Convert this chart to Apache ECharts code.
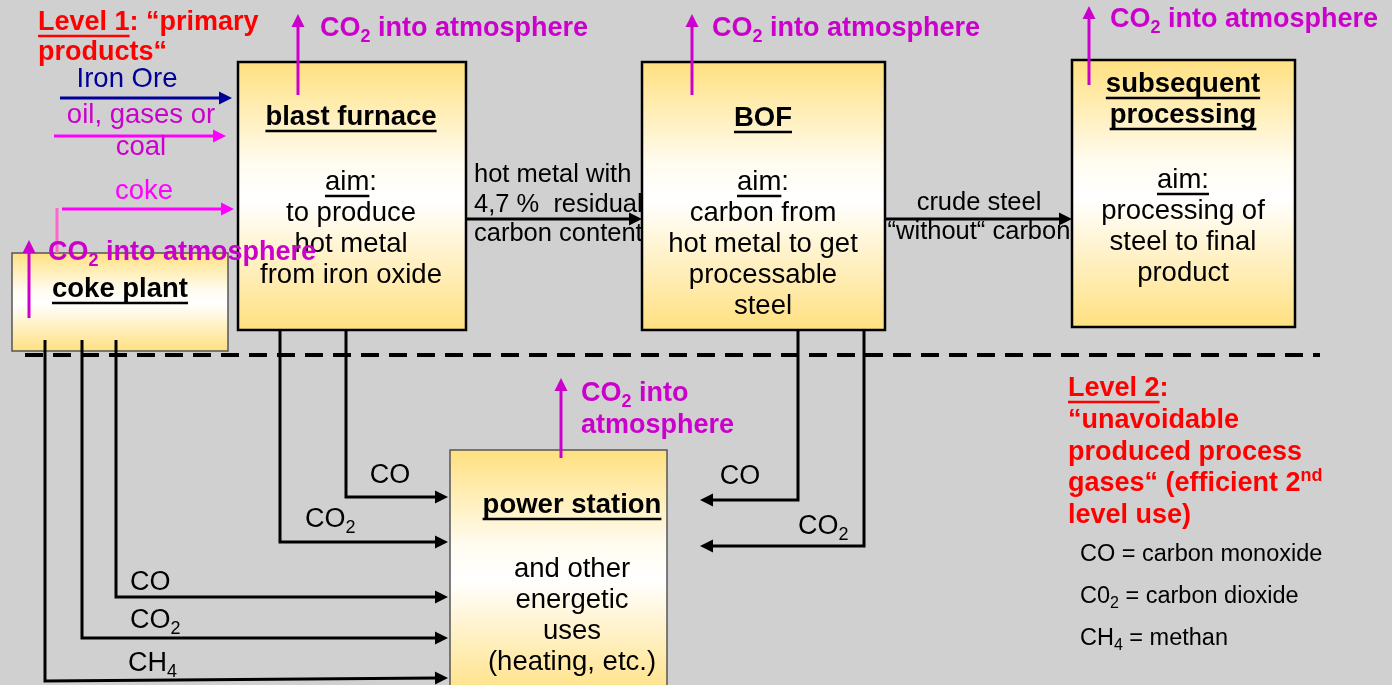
<!DOCTYPE html>
<html>
<head>
<meta charset="utf-8">
<script src="https://cdn.jsdelivr.net/npm/echarts@6/dist/echarts.min.js"></script>
<style>
    html, body { margin: 0; padding: 0; background: #d0d0d0; }
    #flow { width: 1392px; height: 685px; }
</style>
</head>
<body>
<div id="flow"></div>
<script>
// process boxes: [x0, y0, x1, y1, border colour, border width]
const boxes = [
    [12, 253, 228, 351, '#555555', 1.5],   // coke plant
    [238, 62, 466, 330, '#000000', 2.5],   // blast furnace
    [642, 62, 885, 330, '#000000', 2.5],   // BOF
    [1072, 60, 1295, 327, '#000000', 2.5], // subsequent processing
    [450, 450, 667, 700, '#555555', 1.5]   // power station
]

// material / gas flows: points, colour, width, arrow head, dash
const flows = [
    { pts: [[60, 98], [232, 98]], color: '#000099', w: 3, arrow: true },
    { pts: [[54, 136], [226, 136]], color: '#ff00ff', w: 3, arrow: true },
    { pts: [[62, 209], [234, 209]], color: '#ff00ff', w: 3, arrow: true },
    { pts: [[57, 208], [57, 253]], color: '#ff66cc', w: 3, arrow: false },
    { pts: [[466, 219], [642, 219]], color: '#000', w: 3, arrow: true },
    { pts: [[885, 219], [1072, 219]], color: '#000', w: 3, arrow: true },
    { pts: [[25, 355], [1320, 355]], color: '#000', w: 4, arrow: false, dash: [18, 10] },
    { pts: [[346, 330], [346, 497], [448, 497]], color: '#000', w: 3, arrow: true },
    { pts: [[280, 330], [280, 542], [448, 542]], color: '#000', w: 3, arrow: true },
    { pts: [[116, 340], [116, 597], [448, 597]], color: '#000', w: 3, arrow: true },
    { pts: [[82, 340], [82, 638], [448, 638]], color: '#000', w: 3, arrow: true },
    { pts: [[45, 340], [45, 681], [448, 678]], color: '#000', w: 3, arrow: true },
    { pts: [[798, 330], [798, 500], [700, 500]], color: '#000', w: 3, arrow: true },
    { pts: [[864, 330], [864, 546], [700, 546]], color: '#000', w: 3, arrow: true },
    // CO2 into atmosphere
    { pts: [[29, 318], [29, 240]], color: '#cc00cc', w: 3, arrow: true },
    { pts: [[298, 95], [298, 14]], color: '#cc00cc', w: 3, arrow: true },
    { pts: [[692, 95], [692, 14]], color: '#cc00cc', w: 3, arrow: true },
    { pts: [[1089, 85], [1089, 6]], color: '#cc00cc', w: 3, arrow: true },
    { pts: [[561, 458], [561, 378]], color: '#cc00cc', w: 3, arrow: true }
]

// texts: _underline_, ~subscript~, ^superscript^ ; y is the first baseline
const labels = [
    { x: 38, y: 32, lh: 30, align: 'left', size: 27, bold: true, color: '#ff0000', lines: ['_Level 1_: “primary', 'products“'] },
    { x: 127, y: 89, lh: 31, align: 'center', size: 27.5, bold: false, color: '#000099', lines: ['Iron Ore'] },
    { x: 141, y: 125, lh: 32, align: 'center', size: 27.5, bold: false, color: '#cc00cc', lines: ['oil, gases or', 'coal'] },
    { x: 144, y: 201, lh: 31, align: 'center', size: 27.5, bold: false, color: '#ff00ff', lines: ['coke'] },

    { x: 120, y: 299, lh: 31, align: 'center', size: 27.5, bold: true, color: '#000', lines: ['_coke plant_'] },
    { x: 351, y: 127, lh: 31, align: 'center', size: 27.5, bold: true, color: '#000', lines: ['_blast furnace_'] },
    { x: 351, y: 192, lh: 31, align: 'center', size: 27.5, bold: false, color: '#000', lines: ['_aim_:', 'to produce', 'hot metal', 'from iron oxide'] },
    { x: 763, y: 128, lh: 31, align: 'center', size: 27.5, bold: true, color: '#000', lines: ['_BOF_'] },
    { x: 763, y: 192, lh: 31, align: 'center', size: 27.5, bold: false, color: '#000', lines: ['_aim_:', 'carbon from', 'hot metal to get', 'processable', 'steel'] },
    { x: 1183, y: 94, lh: 31, align: 'center', size: 27.5, bold: true, color: '#000', lines: ['_subsequent_', '_processing_'] },
    { x: 1183, y: 190, lh: 31, align: 'center', size: 27.5, bold: false, color: '#000', lines: ['_aim:_', 'processing of', 'steel to final', 'product'] },
    { x: 572, y: 515, lh: 31, align: 'center', size: 27.5, bold: true, color: '#000', lines: ['_power station_'] },
    { x: 572, y: 579, lh: 31, align: 'center', size: 27.5, bold: false, color: '#000', lines: ['and other', 'energetic', 'uses', '(heating, etc.)'] },

    { x: 474, y: 184, lh: 29.5, align: 'left', size: 25.5, bold: false, color: '#000', lines: ['hot metal with', '4,7 %  residual', 'carbon content'] },
    { x: 979, y: 212, lh: 29, align: 'center', size: 25.5, bold: false, color: '#000', lines: ['crude steel', '“without“ carbon'] },
    { x: 390, y: 485, lh: 30, align: 'center', size: 27, bold: false, color: '#000', lines: ['CO'] },
    { x: 305, y: 529, lh: 30, align: 'left', size: 27, bold: false, color: '#000', lines: ['CO~2~'] },
    { x: 130, y: 592, lh: 30, align: 'left', size: 27, bold: false, color: '#000', lines: ['CO'] },
    { x: 130, y: 630, lh: 30, align: 'left', size: 27, bold: false, color: '#000', lines: ['CO~2~'] },
    { x: 128, y: 673, lh: 30, align: 'left', size: 27, bold: false, color: '#000', lines: ['CH~4~'] },
    { x: 740, y: 486, lh: 30, align: 'center', size: 27, bold: false, color: '#000', lines: ['CO'] },
    { x: 798, y: 536, lh: 30, align: 'left', size: 27, bold: false, color: '#000', lines: ['CO~2~'] },

    { x: 48, y: 262, lh: 31, align: 'left', size: 27, bold: true, color: '#cc00cc', lines: ['CO~2~ into atmosphere'] },
    { x: 320, y: 38, lh: 31, align: 'left', size: 27, bold: true, color: '#cc00cc', lines: ['CO~2~ into atmosphere'] },
    { x: 712, y: 38, lh: 31, align: 'left', size: 27, bold: true, color: '#cc00cc', lines: ['CO~2~ into atmosphere'] },
    { x: 1110, y: 29, lh: 31, align: 'left', size: 27, bold: true, color: '#cc00cc', lines: ['CO~2~ into atmosphere'] },
    { x: 581, y: 403, lh: 32, align: 'left', size: 27, bold: true, color: '#cc00cc', lines: ['CO~2~ into', 'atmosphere'] },

    { x: 1068, y: 398, lh: 31.7, align: 'left', size: 27, bold: true, color: '#ff0000', lines: ['_Level 2_:', '“unavoidable', 'produced process', 'gases“ (efficient 2^nd^', 'level use)'] },
    { x: 1080, y: 563, lh: 42, align: 'left', size: 23.5, bold: false, color: '#000', lines: ['CO = carbon monoxide', 'C0~2~ = carbon dioxide', 'CH~4~ = methan'] }
]

const FONT = '"Liberation Sans", Arial, sans-serif'
const measureCtx = document.createElement('canvas').getContext('2d')

function fontStr (size, bold) {
    return (bold ? 'bold ' : '') + size + 'px ' + FONT
}

function textWidth (str, font) {
    measureCtx.font = font
    return measureCtx.measureText(str).width
}

function parseRuns (line) {
    return line.split(/(_[^_]+_|~[^~]+~|\^[^^]+\^)/).filter(s => s).map(s => {
        const k = { _: 'u', '~': 'sub', '^': 'sup' }[s[0]]
        if (k && s.length > 2 && s[s.length - 1] === s[0]) return { t: s.slice(1, -1), k: k }
        return { t: s, k: 'n' }
    })
}

function renderBox (params, api) {
    const b = boxes[params.dataIndex]
    const p0 = api.coord([b[0], b[1]])
    const p1 = api.coord([b[2], b[3]])
    return {
        type: 'rect',
        shape: { x: p0[0], y: p0[1], width: p1[0] - p0[0], height: p1[1] - p0[1] },
        style: {
            fill: new echarts.graphic.LinearGradient(0, 0, 0, 1, [
                { offset: 0, color: '#ffe07f' },
                { offset: 0.38, color: '#fffcf0' },
                { offset: 0.52, color: '#ffffff' },
                { offset: 1, color: '#ffe07f' }
            ]),
            stroke: b[4],
            lineWidth: b[5]
        }
    }
}

function renderFlow (params, api) {
    const f = flows[params.dataIndex]
    const pts = f.pts.map(p => api.coord(p))
    const children = []
    if (f.arrow) {
        const tip = pts[pts.length - 1]
        const prev = pts[pts.length - 2]
        const dx = tip[0] - prev[0]
        const dy = tip[1] - prev[1]
        const len = Math.sqrt(dx * dx + dy * dy)
        const ux = dx / len
        const uy = dy / len
        const hl = 13 // 箭头长度
        const hw = 6.5 // 箭头半宽
        const base = [tip[0] - ux * hl, tip[1] - uy * hl]
        pts[pts.length - 1] = [tip[0] - ux * (hl - 2), tip[1] - uy * (hl - 2)]
        children.push({
            type: 'polygon',
            z2: 2,
            shape: { points: [tip, [base[0] - uy * hw, base[1] + ux * hw], [base[0] + uy * hw, base[1] - ux * hw]] },
            style: { fill: f.color }
        })
    }
    children.unshift({
        type: 'polyline',
        shape: { points: pts },
        style: { stroke: f.color, lineWidth: f.w, fill: null, lineDash: f.dash || null }
    })
    return { type: 'group', children: children }
}

function renderLabel (params, api) {
    const L = labels[params.dataIndex]
    const children = []
    L.lines.forEach((line, i) => {
        const base = api.coord([L.x, L.y + i * L.lh])
        const runs = parseRuns(line).map(r => {
            const size = (r.k === 'sub' || r.k === 'sup') ? Math.round(L.size * 0.66) : L.size
            const font = fontStr(size, L.bold)
            return { t: r.t, k: r.k, font: font, w: textWidth(r.t, font) }
        })
        const total = runs.reduce((s, r) => s + r.w, 0)
        let x = L.align === 'center' ? base[0] - total / 2 : base[0]
        const mid = base[1] - L.size * 0.34
        runs.forEach(r => {
            let y = mid
            if (r.k === 'sub') y = mid + L.size * 0.3
            if (r.k === 'sup') y = mid - L.size * 0.3
            children.push({
                type: 'text',
                x: x,
                y: y,
                style: { text: r.t, font: r.font, fill: L.color, align: 'left', verticalAlign: 'middle', textAlign: 'left', textVerticalAlign: 'middle' }
            })
            if (r.k === 'u') {
                children.push({
                    type: 'rect',
                    shape: { x: x, y: base[1] + L.size * 0.1, width: r.w, height: Math.max(2, L.size * 0.09) },
                    style: { fill: L.color }
                })
            }
            x += r.w
        })
    })
    return { type: 'group', children: children }
}

const flowChart = echarts.init(document.getElementById('flow'))
flowChart.clear()

const option = {
    backgroundColor: '#d0d0d0',
    animation: false,
    grid: { left: 0, right: 0, top: 0, bottom: 0 },
    xAxis: { type: 'value', min: 0, max: 1392, show: false },
    yAxis: { type: 'value', min: 0, max: 685, inverse: true, show: false },
    series: [
        {
            type: 'custom',
            silent: true,
            clip: false,
            renderItem: renderBox,
            data: boxes.map(b => [b[0], b[1]]),
            z: 1
        },
        {
            type: 'custom',
            silent: true,
            clip: false,
            renderItem: renderFlow,
            data: flows.map(f => f.pts[0]),
            z: 2
        },
        {
            type: 'custom',
            silent: true,
            clip: false,
            renderItem: renderLabel,
            data: labels.map(l => [l.x, l.y]),
            z: 3
        }
    ]
}
flowChart.setOption(option)
</script>
</body>
</html>
